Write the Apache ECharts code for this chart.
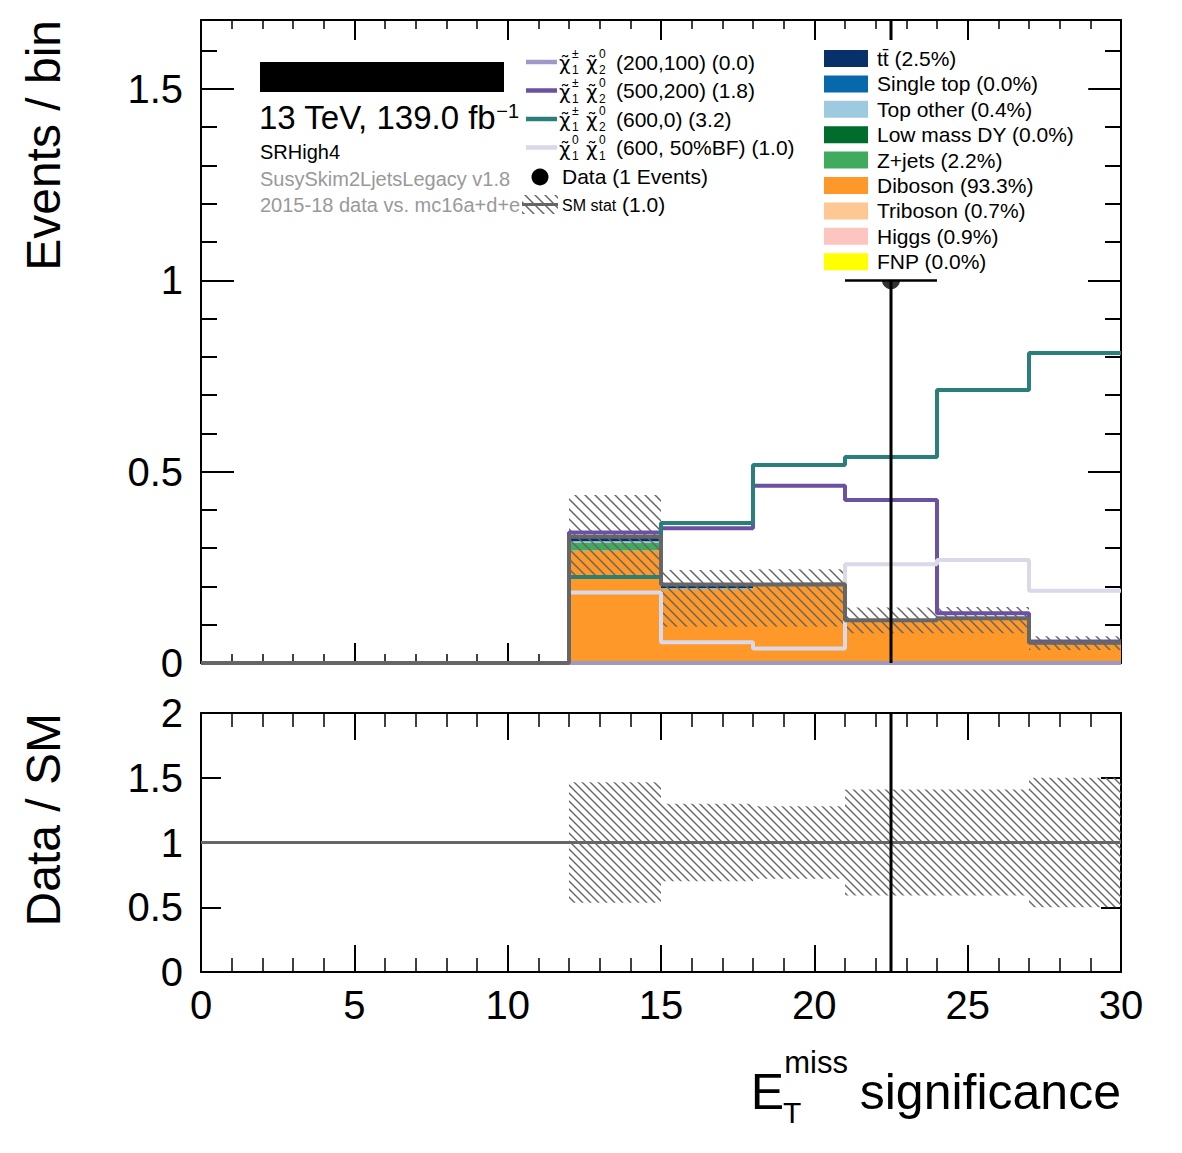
<!DOCTYPE html>
<html>
<head>
<meta charset="utf-8">
<script src="https://cdn.jsdelivr.net/npm/echarts@6/dist/echarts.min.js"></script>
<style>
  html, body { margin: 0; background: #fff; }
  #chart { width: 1182px; height: 1153px; }
</style>
</head>
<body>
<div id="chart"></div>
<script>
// bin edges of the E_T^miss significance histogram
const binEdges = [0, 3, 6, 9, 12, 15, 18, 21, 24, 27, 30];

// SM backgrounds, events per bin
const ttbar     = [0, 0, 0, 0, 0.012, 0.010, 0.002, 0, 0.001, 0];
const singleTop = [0, 0, 0, 0, 0, 0, 0, 0, 0, 0];
const topOther  = [0, 0, 0, 0, 0.003, 0.001, 0, 0, 0, 0];
const lowMassDY = [0, 0, 0, 0, 0, 0, 0, 0, 0, 0];
const zjets     = [0, 0, 0, 0, 0.021, 0.001, 0, 0, 0, 0];
const diboson   = [0, 0, 0, 0, 0.291, 0.189, 0.201, 0.110, 0.114, 0.051];
const triboson  = [0, 0, 0, 0, 0.001, 0.002, 0.001, 0.001, 0.001, 0.001];
const higgs     = [0, 0, 0, 0, 0.002, 0.002, 0.002, 0.001, 0.001, 0.001];
const fnp       = [0, 0, 0, 0, 0, 0, 0, 0, 0, 0];

const bkgNames  = ['tt\u0304', 'Single top', 'Top other', 'Low mass DY', 'Z+jets', 'Diboson', 'Triboson', 'Higgs', 'FNP'];
const bkgShares = ['2.5%', '0.0%', '0.4%', '0.0%', '2.2%', '93.3%', '0.7%', '0.9%', '0.0%'];
const bkgColors = ['#08306b', '#0868ac', '#9ecae1', '#006d2c', '#41ab5d', '#fe9929', '#fec894', '#fcc5c0', '#ffff00'];
const bkgValues = [ttbar, singleTop, topOther, lowMassDY, zjets, diboson, triboson, higgs, fnp];

// SM stat band in the main panel (lower / upper edge)
const bandLo = [0, 0, 0, 0, 0.228, 0.095, 0.095, 0.078, 0.078, 0.034];
const bandHi = [0, 0, 0, 0, 0.439, 0.243, 0.245, 0.145, 0.146, 0.070];
// SM stat relative uncertainty in the ratio panel
const ratioErr = [0, 0, 0, 0, 0.465, 0.30, 0.28, 0.41, 0.41, 0.50];

// signals
const sig200_100 = [0, 0, 0, 0, 0, 0, 0, 0, 0, 0];
const sig500_200 = [0, 0, 0, 0, 0.341, 0.352, 0.463, 0.426, 0.130, 0.056];
const sig600_0   = [0, 0, 0, 0, 0.225, 0.366, 0.517, 0.538, 0.713, 0.810];
const sig600_BF  = [0, 0, 0, 0, 0.184, 0.054, 0.038, 0.258, 0.269, 0.189];
const sigValues = [sig200_100, sig500_200, sig600_0, sig600_BF];
const sigColors = ['#9e9ac8', '#6a51a3', '#2b7f7a', '#d9d9ea'];
const sigLabels = ['(200,100) (0.0)', '(500,200) (1.8)', '(600,0) (3.2)', '(600, 50%BF) (1.0)'];
const sigChi    = [['\u00b1', '1', '0', '2'], ['\u00b1', '1', '0', '2'], ['\u00b1', '1', '0', '2'], ['0', '1', '0', '1']];

// data
const dataX = [22.5];
const dataY = [1];
const dataErrX = [1.5];
const dataErrY = [1];

const FONT = '"Liberation Sans", Arial, Helvetica, sans-serif';

const smTotal = binEdges.slice(0, -1).map((e, i) => bkgValues.reduce((s, v) => s + v[i], 0));

function stepPoints(vals) {
  return binEdges.map((x, i) => [x, vals[Math.min(i, vals.length - 1)]]);
}

function hatch(step, lw) {
  const c = document.createElement('canvas');
  c.width = step; c.height = step;
  const g = c.getContext('2d');
  g.strokeStyle = '#666';
  g.lineWidth = lw;
  g.beginPath();
  g.moveTo(0, 0); g.lineTo(step, step);
  g.moveTo(-2, step - 2); g.lineTo(2, step + 2);
  g.moveTo(step - 2, -2); g.lineTo(step + 2, 2);
  g.stroke();
  return { image: c, repeat: 'repeat' };
}
const hatchMain = hatch(10, 1.5);
const hatchRatio = hatch(8, 1.4);

const chart = echarts.init(document.getElementById('chart'), null, { renderer: 'svg' });

function xAx(grid, pos, showLabel, major, minor) {
  return {
    type: 'value', gridIndex: grid, position: pos, min: 0, max: 30, interval: 5,
    axisLine: { show: true, onZero: false, lineStyle: { color: '#000', width: 2 } },
    axisTick: { show: true, inside: true, length: major, lineStyle: { color: '#000', width: 2 } },
    minorTick: { show: true, splitNumber: 5, length: minor, lineStyle: { color: '#000', width: 1.5 } },
    axisLabel: { show: showLabel, fontSize: 40, fontFamily: FONT, color: '#000', margin: 13 },
    splitLine: { show: false }
  };
}
function yAx(grid, pos, max, interval, tickLen, showLabel, showLine) {
  return {
    type: 'value', gridIndex: grid, position: pos, min: 0, max: max, interval: interval,
    axisLine: { show: showLine, onZero: false, lineStyle: { color: '#000', width: 2 } },
    axisTick: { show: true, inside: true, length: tickLen, lineStyle: { color: '#000', width: 2 } },
    axisLabel: { show: showLabel, fontSize: 40, fontFamily: FONT, color: '#000', margin: 18, showMaxLabel: max === 2 },
    splitLine: { show: false }
  };
}

function rectItem(fill) {
  return function (params, api) {
    const a = api.coord([api.value(0), api.value(3)]);
    const b = api.coord([api.value(1), api.value(2)]);
    return { type: 'rect', shape: { x: a[0], y: a[1], width: b[0] - a[0], height: b[1] - a[1] }, style: { fill: fill } };
  };
}
function errItem(params, api) {
  const x = api.value(0), y = api.value(1), ex = api.value(2), ey = api.value(3);
  const v0 = api.coord([x, y - ey]), v1 = api.coord([x, y + ey]);
  const h0 = api.coord([x - ex, y]), h1 = api.coord([x + ex, y]);
  return {
    type: 'group', children: [
      { type: 'line', shape: { x1: v0[0], y1: v0[1], x2: v1[0], y2: v1[1] }, style: { stroke: '#000', lineWidth: 3 } },
      { type: 'line', shape: { x1: h0[0], y1: h0[1], x2: h1[0], y2: h1[1] }, style: { stroke: '#000', lineWidth: 3 } }
    ]
  };
}

const series = [];
// stacked backgrounds (bottom of stack = last legend entry)
const base = smTotal.map(() => 0);
for (let k = bkgNames.length - 1; k >= 0; k--) {
  const rows = [];
  bkgValues[k].forEach((v, i) => {
    if (v > 0) rows.push([binEdges[i], binEdges[i + 1], base[i], base[i] + v]);
    base[i] += v;
  });
  series.push({
    name: bkgNames[k], type: 'custom', xAxisIndex: 0, yAxisIndex: 0,
    renderItem: rectItem(bkgColors[k]), data: rows, encode: { x: [0, 1], y: [2, 3] },
    itemStyle: { color: bkgColors[k] }, silent: true, z: 1
  });
}
// SM stat band
const bandData = [];
const ratioBandData = [];
for (let i = 0; i < smTotal.length; i++) {
  if (smTotal[i] <= 0) continue;
  bandData.push([binEdges[i], binEdges[i + 1], bandLo[i], bandHi[i]]);
  ratioBandData.push([binEdges[i], binEdges[i + 1], 1 - ratioErr[i], 1 + ratioErr[i]]);
}
series.push({
  type: 'custom', xAxisIndex: 0, yAxisIndex: 0, renderItem: rectItem(hatchMain),
  data: bandData, encode: { x: [0, 1], y: [2, 3] }, silent: true, z: 2
});
// signals
sigValues.forEach((v, k) => {
  series.push({
    type: 'line', xAxisIndex: 0, yAxisIndex: 0, step: 'end', data: stepPoints(v),
    showSymbol: false, symbol: 'none', silent: true,
    lineStyle: { color: sigColors[k], width: 4 }, z: 3
  });
});
// SM total
series.push({
  type: 'line', xAxisIndex: 0, yAxisIndex: 0, step: 'end', data: stepPoints(smTotal),
  showSymbol: false, symbol: 'none', silent: true,
  lineStyle: { color: '#666', width: 4 }, z: 3
});
// data
series.push({
  type: 'custom', xAxisIndex: 0, yAxisIndex: 0, renderItem: errItem, clip: true,
  data: dataX.map((x, i) => [x, dataY[i], dataErrX[i], dataErrY[i]]), silent: true, z: 5
});
series.push({
  type: 'scatter', xAxisIndex: 0, yAxisIndex: 0, data: dataX.map((x, i) => [x, dataY[i]]),
  symbolSize: 18, itemStyle: { color: '#000' }, silent: true, z: 5
});
// ratio panel
series.push({
  type: 'custom', xAxisIndex: 2, yAxisIndex: 4, renderItem: rectItem(hatchRatio),
  data: ratioBandData, encode: { x: [0, 1], y: [2, 3] }, silent: true, z: 2
});
series.push({
  type: 'line', xAxisIndex: 2, yAxisIndex: 4, data: [[binEdges[0], 1], [binEdges[binEdges.length - 1], 1]],
  showSymbol: false, symbol: 'none', silent: true, lineStyle: { color: '#666', width: 3 }, z: 3
});
const ratioData = dataX.map((x, i) => {
  const b = binEdges.findIndex((e, j) => x >= e && x < binEdges[j + 1]);
  return [x, dataY[i] / smTotal[b], 0, dataErrY[i] / smTotal[b]];
});
series.push({
  type: 'custom', xAxisIndex: 2, yAxisIndex: 4, renderItem: errItem, clip: true,
  data: ratioData, silent: true, z: 5
});

// hand-drawn legend for the signals / data / SM stat
const gfx = [];
const txt = (x, y, text, size, extra) => Object.assign({
  type: 'text', x: x, y: y, z: 20,
  style: Object.assign({ text: text, fontSize: size, fontFamily: FONT, fill: '#000', verticalAlign: 'middle' }, extra || {})
});
const CHI = { fontFamily: '"DejaVu Sans", sans-serif' };
const sigRowY = [62, 90.5, 119, 147.5];
sigRowY.forEach((cy, k) => {
  const c = sigChi[k];
  gfx.push({ type: 'line', z: 20, shape: { x1: 526, y1: cy, x2: 557, y2: cy }, style: { stroke: sigColors[k], lineWidth: 4.5 } });
  gfx.push(txt(559, cy + 1, '\u03c7\u0303', 20, CHI));
  gfx.push(txt(572, cy - 8, c[0], 12));
  gfx.push(txt(572, cy + 8, c[1], 12));
  gfx.push(txt(586, cy + 1, '\u03c7\u0303', 20, CHI));
  gfx.push(txt(599, cy - 8, c[2], 12));
  gfx.push(txt(599, cy + 8, c[3], 12));
  gfx.push(txt(616, cy, sigLabels[k], 21));
});
gfx.push({ type: 'circle', z: 20, shape: { cx: 540, cy: 177, r: 8.5 }, style: { fill: '#000' } });
gfx.push(txt(562, 176, 'Data (1 Events)', 21));
gfx.push({ type: 'rect', z: 20, shape: { x: 522, y: 195, width: 36, height: 19 }, style: { fill: hatchMain } });
gfx.push({ type: 'line', z: 20, shape: { x1: 522, y1: 204.5, x2: 558, y2: 204.5 }, style: { stroke: '#666', lineWidth: 3 } });
gfx.push(txt(562, 205, 'SM stat', 16));
gfx.push(txt(622, 204, '(1.0)', 21));
// info block
gfx.push({ type: 'rect', z: 20, shape: { x: 260, y: 62, width: 244, height: 30 }, style: { fill: '#000' } });
gfx.push(txt(259, 117, '{a|13 TeV, 139.0 fb}{s|\u22121}', 33, {
  rich: { a: { fontSize: 33, fontFamily: FONT, fill: '#000' }, s: { fontSize: 20, fontFamily: FONT, fill: '#000', verticalAlign: 'top' } }
}));
gfx.push(txt(260, 152, 'SRHigh4', 20));
gfx.push(txt(260, 179, 'SusySkim2LjetsLegacy v1.8', 20, { fill: '#999' }));
gfx.push(txt(260, 205, '2015-18 data vs. mc16a+d+e', 20, { fill: '#999' }));
// axis titles
gfx.push(Object.assign(txt(43, 20, 'Events / bin', 48, { align: 'right' }), { rotation: Math.PI / 2 }));
gfx.push(Object.assign(txt(43, 713, 'Data / SM', 48, { align: 'right' }), { rotation: Math.PI / 2 }));
gfx.push(txt(1121, 1092, 'significance', 50, { align: 'right' }));
gfx.push(txt(784, 1092, 'E', 50, { align: 'right' }));
gfx.push(txt(848, 1062, 'miss', 31, { align: 'right' }));
gfx.push(txt(783, 1112, 'T', 30));

chart.setOption({
  animation: false,
  backgroundColor: '#fff',
  grid: [
    { left: 201, top: 20, width: 920, height: 643 },
    { left: 201, top: 713, width: 920, height: 259 }
  ],
  xAxis: [
    xAx(0, 'bottom', false, 20, 9),
    xAx(0, 'top', false, 20, 9),
    xAx(1, 'bottom', true, 27, 14),
    xAx(1, 'top', false, 27, 14)
  ],
  yAxis: [
    yAx(0, 'left', 1.68, 0.5, 33, true, true),
    yAx(0, 'left', 1.68, 0.1, 16, false, false),
    yAx(0, 'right', 1.68, 0.5, 33, false, true),
    yAx(0, 'right', 1.68, 0.1, 16, false, false),
    yAx(1, 'left', 2, 0.5, 20, true, true),
    yAx(1, 'right', 2, 0.5, 20, false, true)
  ],
  legend: {
    data: bkgNames, orient: 'vertical', left: 818, top: 40, z: 10,
    padding: [8, 14, 7, 6], itemWidth: 44, itemHeight: 17, itemGap: 4.4,
    icon: 'rect', selectedMode: false, backgroundColor: '#fff',
    formatter: name => name + ' (' + bkgShares[bkgNames.indexOf(name)] + ')',
    textStyle: { fontSize: 21, fontFamily: FONT, color: '#000', padding: [0, 0, 0, 4] }
  },
  graphic: { elements: gfx },
  series: series
});
</script>
</body>
</html>
